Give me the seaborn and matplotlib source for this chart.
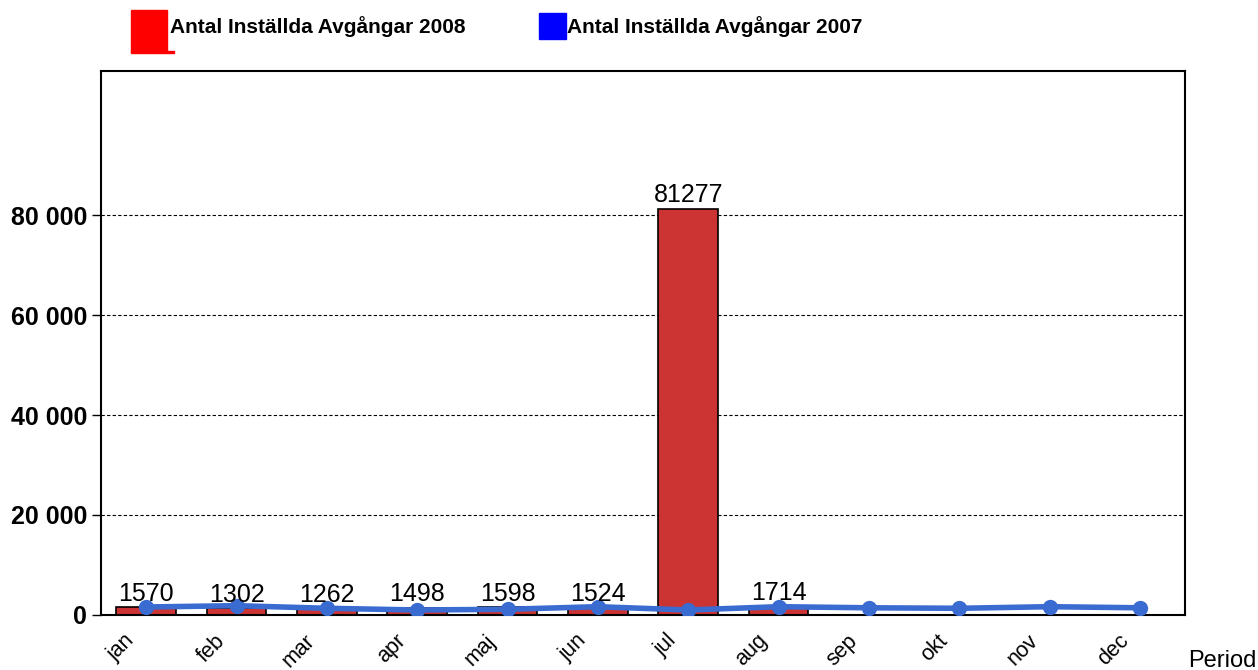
import numpy as np
import pandas as pd
import seaborn as sns
import matplotlib.pyplot as plt
from matplotlib.patches import Rectangle
from matplotlib.transforms import ScaledTranslation

# ---------------------------------------------------------------------------
# data
# ---------------------------------------------------------------------------
months = ["jan", "feb", "mar", "apr", "maj", "jun",
          "jul", "aug", "sep", "okt", "nov", "dec"]
installda_2008 = [1570, 1302, 1262, 1498, 1598, 1524,
                  81277, 1714, np.nan, np.nan, np.nan, np.nan]
installda_2007 = [1600, 1860, 1340, 1000, 1140, 1660,
                  1000, 1660, 1440, 1340, 1660, 1440]
y_ticks = [0, 20000, 40000, 60000, 80000]

df = pd.DataFrame({"month": months, "y2008": installda_2008, "y2007": installda_2007})

# ---------------------------------------------------------------------------
# plot
# ---------------------------------------------------------------------------
sns.set_style("white")
plt.rcParams["font.family"] = ["Liberation Sans", "DejaVu Sans"]
plt.rcParams["text.color"] = "black"
plt.rcParams["xtick.color"] = "black"
plt.rcParams["ytick.color"] = "black"

fig = plt.figure(figsize=(12.58, 6.70), dpi=100)
ax = fig.add_axes([0.0803, 0.0821, 0.8617, 0.8119])

sns.barplot(data=df, x="month", y="y2008", color="#cc3333", saturation=1,
            edgecolor="black", linewidth=1.2, width=0.66, ax=ax, zorder=2)
sns.pointplot(data=df, x="month", y="y2007", color="#3a6bd1", markers="o",
              markersize=8, linewidth=4, ax=ax, zorder=3)

# value labels above the 2008 bars
for i, v in enumerate(installda_2008):
    if not np.isnan(v):
        ax.annotate(f"{int(v)}", (i, v), xytext=(0, 1), textcoords="offset points",
                    ha="center", va="bottom", fontsize=18, color="black", zorder=4)

ax.set_ylim(0, 108800)
ax.set_xlim(-0.5, 11.5)
ax.set_yticks(y_ticks)
ax.set_yticklabels([f"{t:,}".replace(",", " ") for t in y_ticks],
                   fontsize=18, fontweight="bold")
ax.set_xticks(range(len(months)))
ax.set_xticklabels(months, rotation=45, ha="right", va="top",
                   rotation_mode="anchor", fontsize=15.5)
ax.tick_params(axis="x", length=0, pad=11)
ax.tick_params(axis="y", length=6.5, width=1, color="black", left=True, pad=3.6)
ax.set_xlabel("")
ax.set_ylabel("")

# month labels sit a bit left of their ticks in the original
shift = ScaledTranslation(-22 / 100, 0, fig.dpi_scale_trans)
for lab in ax.get_xticklabels():
    lab.set_transform(lab.get_transform() + shift)

for y in y_ticks[1:]:
    ax.axhline(y, color="black", linestyle=(0, (3, 2)), linewidth=0.8, zorder=1)

for s in ax.spines.values():
    s.set_color("black")
    s.set_linewidth(1.5)

fig.text(1188 / 1258, 1 - 667 / 670, "Period", fontsize=17, ha="left", va="baseline")

# legend drawn by hand
fig.patches.append(Rectangle((131 / 1258, 1 - 52 / 670), 36 / 1258, 42 / 670,
                             transform=fig.transFigure, color="#ff0000"))
fig.patches.append(Rectangle((131 / 1258, 1 - 53 / 670), 43 / 1258, 2 / 670,
                             transform=fig.transFigure, color="#ff0000"))
fig.text(170 / 1258, 1 - 33 / 670, "Antal Inställda Avgångar 2008",
         fontsize=15, fontweight="bold", ha="left", va="baseline")
fig.patches.append(Rectangle((539 / 1258, 1 - 39 / 670), 27 / 1258, 26 / 670,
                             transform=fig.transFigure, color="#0000ff"))
fig.text(567 / 1258, 1 - 33 / 670, "Antal Inställda Avgångar 2007",
         fontsize=15, fontweight="bold", ha="left", va="baseline")

fig.savefig("out.png", dpi=100)
